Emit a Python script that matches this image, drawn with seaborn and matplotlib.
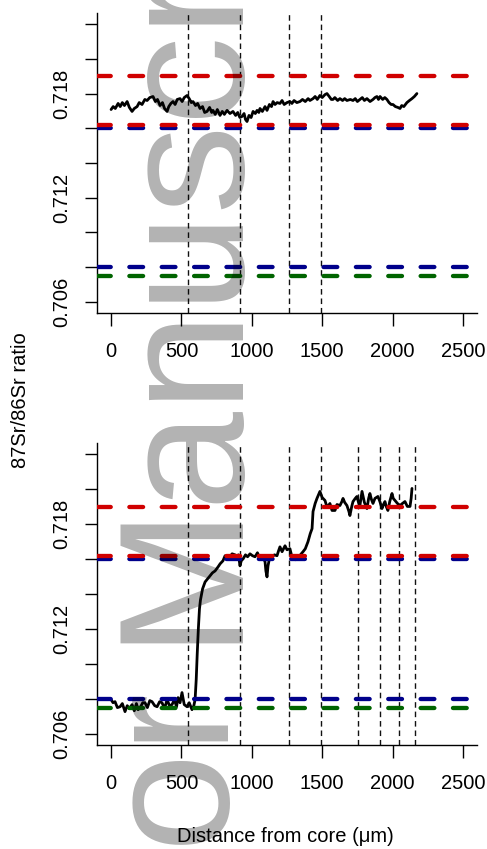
import numpy as np
import pandas as pd
import matplotlib
matplotlib.use("Agg")
import matplotlib.pyplot as plt
import seaborn as sns

# ---------------- data ----------------
distance_top = [0, 15, 30, 50, 65, 80, 95, 114, 130, 149,
                165, 185, 200, 220, 240, 256, 275, 298, 315, 330,
                348, 365, 380, 398, 410, 425, 440, 455, 470, 490,
                505, 520, 540, 555, 570, 582, 600, 615, 632, 650,
                665, 682, 700, 715, 724, 740, 755, 774, 790, 805,
                824, 845, 866, 885, 900, 915, 930, 945, 955, 966,
                980, 995, 1009, 1025, 1037, 1050, 1058, 1075, 1094, 1108,
                1125, 1140, 1151, 1165, 1180, 1200, 1215, 1230, 1250, 1271,
                1285, 1300, 1320, 1342, 1360, 1380, 1400, 1413, 1435, 1450,
                1465, 1484, 1500, 1520, 1534, 1550, 1565, 1577, 1590, 1610,
                1626, 1645, 1660, 1676, 1700, 1719, 1735, 1750, 1768, 1785,
                1800, 1818, 1840, 1861, 1875, 1889, 1900, 1911, 1930, 1945,
                1960, 1975, 1990, 2003, 2020, 2038, 2053, 2065, 2080, 2102,
                2120, 2138, 2155, 2173]
sr_top = [.71708, .71725, .71714, .71743, .71725, .71748, .71731, .71754, .71720, .71697,
          .71714, .71725, .71748, .71737, .71766, .71760, .71777, .71783, .71754, .71766,
          .71731, .71748, .71714, .71697, .71725, .71743, .71754, .71737, .71766, .71771,
          .71754, .71777, .71789, .71771, .71748, .71754, .71731, .71743, .71714, .71725,
          .71691, .71697, .71720, .71691, .71703, .71680, .71708, .71674, .71697, .71680,
          .71703, .71685, .71697, .71674, .71691, .71662, .71668, .71685, .71651, .71639,
          .71674, .71662, .71697, .71685, .71703, .71691, .71714, .71697, .71725, .71703,
          .71737, .71725, .71754, .71737, .71748, .71743, .71760, .71737, .71748, .71754,
          .71743, .71760, .71748, .71754, .71766, .71754, .71771, .71760, .71771, .71783,
          .71766, .71789, .71777, .71794, .71800, .71783, .71766, .71766, .71777, .71760,
          .71771, .71760, .71771, .71760, .71766, .71760, .71771, .71754, .71766, .71777,
          .71760, .71771, .71754, .71766, .71777, .71783, .71766, .71783, .71766, .71777,
          .71766, .71748, .71737, .71737, .71725, .71720, .71714, .71731, .71725, .71748,
          .71760, .71771, .71783, .71800]

distance_bottom = [0, 14, 28, 45, 64, 80, 99, 115, 130, 149,
                   165, 180, 192, 210, 225, 241, 258, 275, 291, 310,
                   327, 345, 362, 380, 398, 415, 433, 450, 465, 476,
                   490, 504, 520, 540, 555, 575, 588, 597, 605, 612,
                   620, 628, 635, 650, 668, 685, 703, 720, 739, 750,
                   760, 775, 795, 810, 825, 845, 860, 881, 895, 905,
                   916, 925, 938, 955, 970, 987, 1005, 1023, 1040, 1055,
                   1072, 1085, 1094, 1100, 1108, 1115, 1125, 1143, 1160, 1179,
                   1190, 1200, 1215, 1236, 1250, 1271, 1283, 1293, 1310, 1328,
                   1345, 1364, 1380, 1399, 1415, 1428, 1435, 1450, 1463, 1475,
                   1484, 1500, 1520, 1535, 1555, 1570, 1591, 1605, 1626, 1640,
                   1648, 1660, 1676, 1690, 1697, 1710, 1719, 1735, 1747, 1760,
                   1768, 1783, 1800, 1818, 1830, 1839, 1850, 1861, 1875, 1896,
                   1910, 1925, 1935, 1946, 1955, 1967, 1980, 1996, 2005, 2017,
                   2035, 2053, 2070, 2088, 2105, 2124, 2132, 2138]
sr_bottom = [.70796, .70778, .70784, .70750, .70755, .70773, .70727, .70761, .70744, .70767,
             .70732, .70773, .70738, .70755, .70778, .70778, .70750, .70790, .70784, .70761,
             .70755, .70784, .70778, .70744, .70796, .70761, .70767, .70796, .70755, .70807,
             .70778, .70836, .70767, .70755, .70778, .70738, .70761, .70796, .70911, .71055,
             .71199, .71314, .71365, .71429, .71469, .71486, .71504, .71521, .71532, .71544,
             .71555, .71573, .71590, .71619, .71601, .71613, .71630, .71624, .71607, .71624,
             .71561, .71590, .71601, .71624, .71613, .71630, .71619, .71613, .71636, .71607,
             .71619, .71601, .71584, .71532, .71498, .71561, .71601, .71613, .71624, .71619,
             .71647, .71670, .71642, .71676, .71653, .71659, .71619, .71619, .71596, .71601,
             .71624, .71642, .71659, .71699, .71745, .71774, .71872, .71918, .71947, .71970,
             .71987, .71952, .71935, .71895, .71918, .71878, .71878, .71912, .71906, .71929,
             .71947, .71924, .71906, .71872, .71849, .71901, .71929, .71947, .71958, .71918,
             .71906, .71987, .71924, .71889, .71947, .71975, .71941, .71918, .71947, .71958,
             .71929, .71889, .71912, .71929, .71901, .71878, .71929, .71975, .71947, .71935,
             .71918, .71906, .71918, .71929, .71901, .71901, .71947, .72004]

red_levels = [0.7190, 0.7162]
blue_levels = [0.7160, 0.7080]
green_levels = [0.7075]
zones_top = [547, 916, 1264, 1492]
zones_bottom = [547, 916, 1264, 1492, 1751, 1910, 2046, 2162]

y_ticks = [0.706, 0.708, 0.710, 0.712, 0.714, 0.716, 0.718, 0.720, 0.722]
y_tick_labels = ["0.706", "", "", "0.712", "", "", "0.718", "", ""]
x_ticks = [0, 500, 1000, 1500, 2000, 2500]
x_tick_labels = ["0", "500", "1000", "1500", "2000", "2500"]

# ---------------- style ----------------
sns.set_style("ticks")
plt.rcParams['font.family'] = ['Liberation Sans', 'DejaVu Sans']
plt.rcParams['lines.scale_dashes'] = False

W, H = 487, 849
fig = plt.figure(figsize=(W / 100, H / 100), dpi=100)
ax_top = fig.add_axes([97 / W, (H - 313) / H, 380 / W, 300 / H])
ax_bot = fig.add_axes([97 / W, (H - 745) / H, 380 / W, 302 / H])

df_top = pd.DataFrame({"distance": distance_top, "sr": sr_top})
df_bot = pd.DataFrame({"distance": distance_bottom, "sr": sr_bottom})

for ax, df, zones in [(ax_top, df_top, zones_top), (ax_bot, df_bot, zones_bottom)]:
    sns.lineplot(data=df, x="distance", y="sr", ax=ax, color="black",
                 linewidth=2.0, sort=False, estimator=None, zorder=2)
    for z in zones:
        ax.axvline(z, color="#111111", lw=1.0, dashes=(4.0, 2.8), zorder=1.5)
    for lv in green_levels:
        ax.axhline(lv, color="#006400", lw=3.1, dashes=(9.9, 13.4),
                   dash_capstyle="round", zorder=3)
    for lv in blue_levels:
        ax.axhline(lv, color="#00008B", lw=3.1, dashes=(9.9, 13.4),
                   dash_capstyle="round", zorder=3)
    for lv in red_levels:
        ax.axhline(lv, color="#D00000", lw=3.1, dashes=(9.9, 13.4),
                   dash_capstyle="round", zorder=3.1)
    ax.set_xlim(-100, 2600)
    ax.set_ylim(0.70536, 0.72264)
    ax.set_xticks(x_ticks)
    ax.set_xticklabels(x_tick_labels)
    ax.set_yticks(y_ticks)
    ax.set_yticklabels(y_tick_labels, rotation=90, va="center")
    ax.set_xlabel("")
    ax.set_ylabel("")
    ax.grid(False)
    sns.despine(ax=ax)
    for s in ("left", "bottom"):
        ax.spines[s].set_linewidth(1.0)
        ax.spines[s].set_color("black")
    ax.tick_params(axis="both", length=9, width=1.0,
                   labelsize=14.5, colors="black")
    ax.tick_params(axis="y", pad=9.4)
    ax.tick_params(axis="x", pad=12.2)

fig.text(21 / W, (H - 400) / H, "87Sr/86Sr ratio", rotation=90,
         ha="center", va="center", fontsize=14.5, color="black")
fig.text(285.5 / W, 7 / H, "Distance from core (μm)", ha="center",
         va="baseline", fontsize=14.5, color="black")

# watermark
fig.text(229 / W, (H - 643) / H, "Manuscript", rotation=90, rotation_mode="anchor",
         ha="left", va="baseline", fontsize=128, color="black", alpha=0.3, zorder=10)
fig.text(229 / W, (H - 692.5) / H, "Author", rotation=90, rotation_mode="anchor",
         ha="right", va="baseline", fontsize=128, color="black", alpha=0.3, zorder=10)

fig.savefig("out.png", dpi=100)
